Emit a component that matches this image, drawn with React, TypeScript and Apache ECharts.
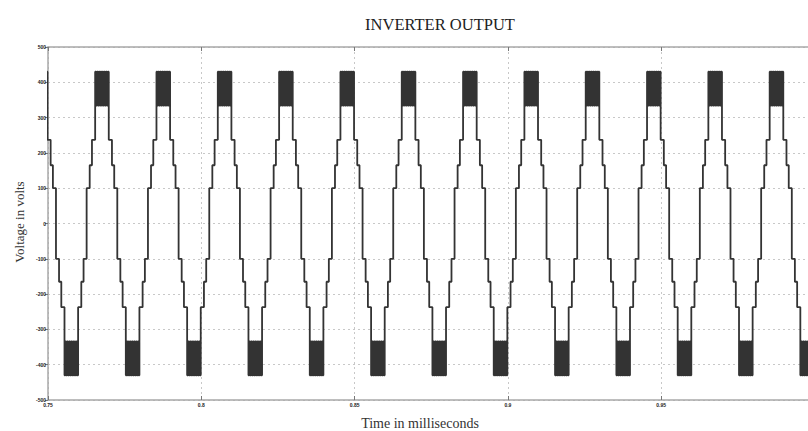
import React, { useEffect, useRef } from "react";
import * as echarts from "echarts";

// Crest times (ms) of the positive half-waves
const peakTimes = [0.7476, 0.7676, 0.7876, 0.8076, 0.8276, 0.8476, 0.8676, 0.8876, 0.9076, 0.9276, 0.9476, 0.9676, 0.9876];
// Crest times (ms) of the negative half-waves
const troughTimes = [0.7576, 0.7776, 0.7976, 0.8176, 0.8376, 0.8576, 0.8776, 0.8976, 0.9176, 0.9376, 0.9576, 0.9776, 0.9976];
// Staircase levels (V), from the crest outwards
const pwmHigh = 430;
const pwmLow = 334;
const stairLevels = [237, 165, 100];
// Time offsets (ms) from the crest at which each level ends
const pwmWindow = 0.00222;
const stairEdges = [0.00326, 0.004, 0.005];
// Switching instants (ms, relative to the crest) inside the PWM band
const pwmEdges = [-0.00195, -0.00165, -0.00135, -0.00105, -0.00075, -0.00045, -0.00015, 0.00015, 0.00045, 0.00075, 0.00105, 0.00135, 0.00165, 0.00195];

const yTicks = { min: -500, max: 500, step: 100 };
const xTicks = { min: 0.75, max: 1.0, step: 0.05 };

function buildSeries(): number[][] {
  const halves: { c: number; s: number }[] = [];
  peakTimes.forEach((c) => halves.push({ c, s: 1 }));
  troughTimes.forEach((c) => halves.push({ c, s: -1 }));
  halves.sort((a, b) => a.c - b.c);
  const pts: number[][] = [];
  halves.forEach(({ c, s }) => {
    pts.push([c - stairEdges[2], s * stairLevels[2]]);
    pts.push([c - stairEdges[1], s * stairLevels[2]]);
    pts.push([c - stairEdges[1], s * stairLevels[1]]);
    pts.push([c - stairEdges[0], s * stairLevels[1]]);
    pts.push([c - stairEdges[0], s * stairLevels[0]]);
    pts.push([c - pwmWindow, s * stairLevels[0]]);
    pts.push([c - pwmWindow, s * pwmHigh]);
    pwmEdges.forEach((e, i) => {
      const before = i % 2 === 0 ? pwmHigh : pwmLow;
      const after = i % 2 === 0 ? pwmLow : pwmHigh;
      pts.push([c + e, s * before]);
      pts.push([c + e, s * after]);
    });
    pts.push([c + pwmWindow, s * pwmHigh]);
    pts.push([c + pwmWindow, s * stairLevels[0]]);
    pts.push([c + stairEdges[0], s * stairLevels[0]]);
    pts.push([c + stairEdges[0], s * stairLevels[1]]);
    pts.push([c + stairEdges[1], s * stairLevels[1]]);
    pts.push([c + stairEdges[1], s * stairLevels[2]]);
    pts.push([c + stairEdges[2], s * stairLevels[2]]);
  });
  return pts;
}

export default function App() {
  const ref = useRef<HTMLDivElement>(null);
  useEffect(() => {
    if (!ref.current) return;
    const chart = echarts.init(ref.current, undefined, { renderer: "svg" });
    const gridLine = { show: true, lineStyle: { color: "#c8c8c8", type: [2, 3] as any, width: 1 } };
    const axisLineStyle = { color: "#a8a8a8", width: 1.5 };
    const labelStyle = { fontSize: 5, color: "#222", fontWeight: "bold" as const, fontFamily: "Liberation Sans" };
    chart.setOption({
      animation: false,
      backgroundColor: "#ffffff",
      grid: { left: 48, right: 15.5, top: 47, bottom: 31, show: false },
      xAxis: [
        {
          type: "value",
          min: xTicks.min,
          max: xTicks.max,
          interval: xTicks.step,
          position: "bottom",
          axisLine: { show: true, onZero: false, lineStyle: axisLineStyle },
          axisTick: { show: true, inside: true, length: 4, lineStyle: { color: "#777" } },
          axisLabel: { ...labelStyle, margin: 2, showMinLabel: true, showMaxLabel: false },
          splitLine: gridLine,
        },
        {
          type: "value",
          min: xTicks.min,
          max: xTicks.max,
          interval: xTicks.step,
          position: "top",
          axisLine: { show: true, onZero: false, lineStyle: axisLineStyle },
          axisTick: { show: true, inside: true, length: 4, lineStyle: { color: "#777" } },
          axisLabel: { show: false },
          splitLine: { show: false },
        },
      ],
      yAxis: {
        type: "value",
        min: yTicks.min,
        max: yTicks.max,
        interval: yTicks.step,
        axisLine: { show: true, onZero: false, lineStyle: axisLineStyle },
        axisTick: { show: true, length: 3, lineStyle: { color: "#777" } },
        axisLabel: { ...labelStyle, margin: 2 },
        splitLine: gridLine,
      },
      graphic: [
        {
          type: "text",
          x: 440,
          y: 24,
          style: {
            text: "INVERTER OUTPUT",
            font: "16.5px 'Liberation Serif'",
            fill: "#222",
            align: "center",
            verticalAlign: "middle",
          },
        },
        {
          type: "text",
          x: 420,
          y: 423,
          style: {
            text: "Time in milliseconds",
            font: "14px 'Liberation Serif'",
            fill: "#333",
            align: "center",
            verticalAlign: "middle",
          },
        },
        {
          type: "text",
          x: 19,
          y: 222,
          rotation: Math.PI / 2,
          style: {
            text: "Voltage in volts",
            font: "13px 'Liberation Serif'",
            fill: "#333",
            align: "center",
            verticalAlign: "middle",
          },
        },
      ],
      series: [
        {
          type: "line",
          xAxisIndex: 0,
          data: buildSeries(),
          showSymbol: false,
          symbol: "none",
          clip: true,
          lineStyle: { color: "#333333", width: 1.8 },
        },
      ],
    });
    return () => chart.dispose();
  }, []);
  return (
    <div style={{ position: "fixed", left: 0, top: 0, width: 808, height: 431, overflow: "hidden", background: "#fff" }}>
      <div ref={ref} style={{ width: 830, height: 431 }} />
    </div>
  );
}
